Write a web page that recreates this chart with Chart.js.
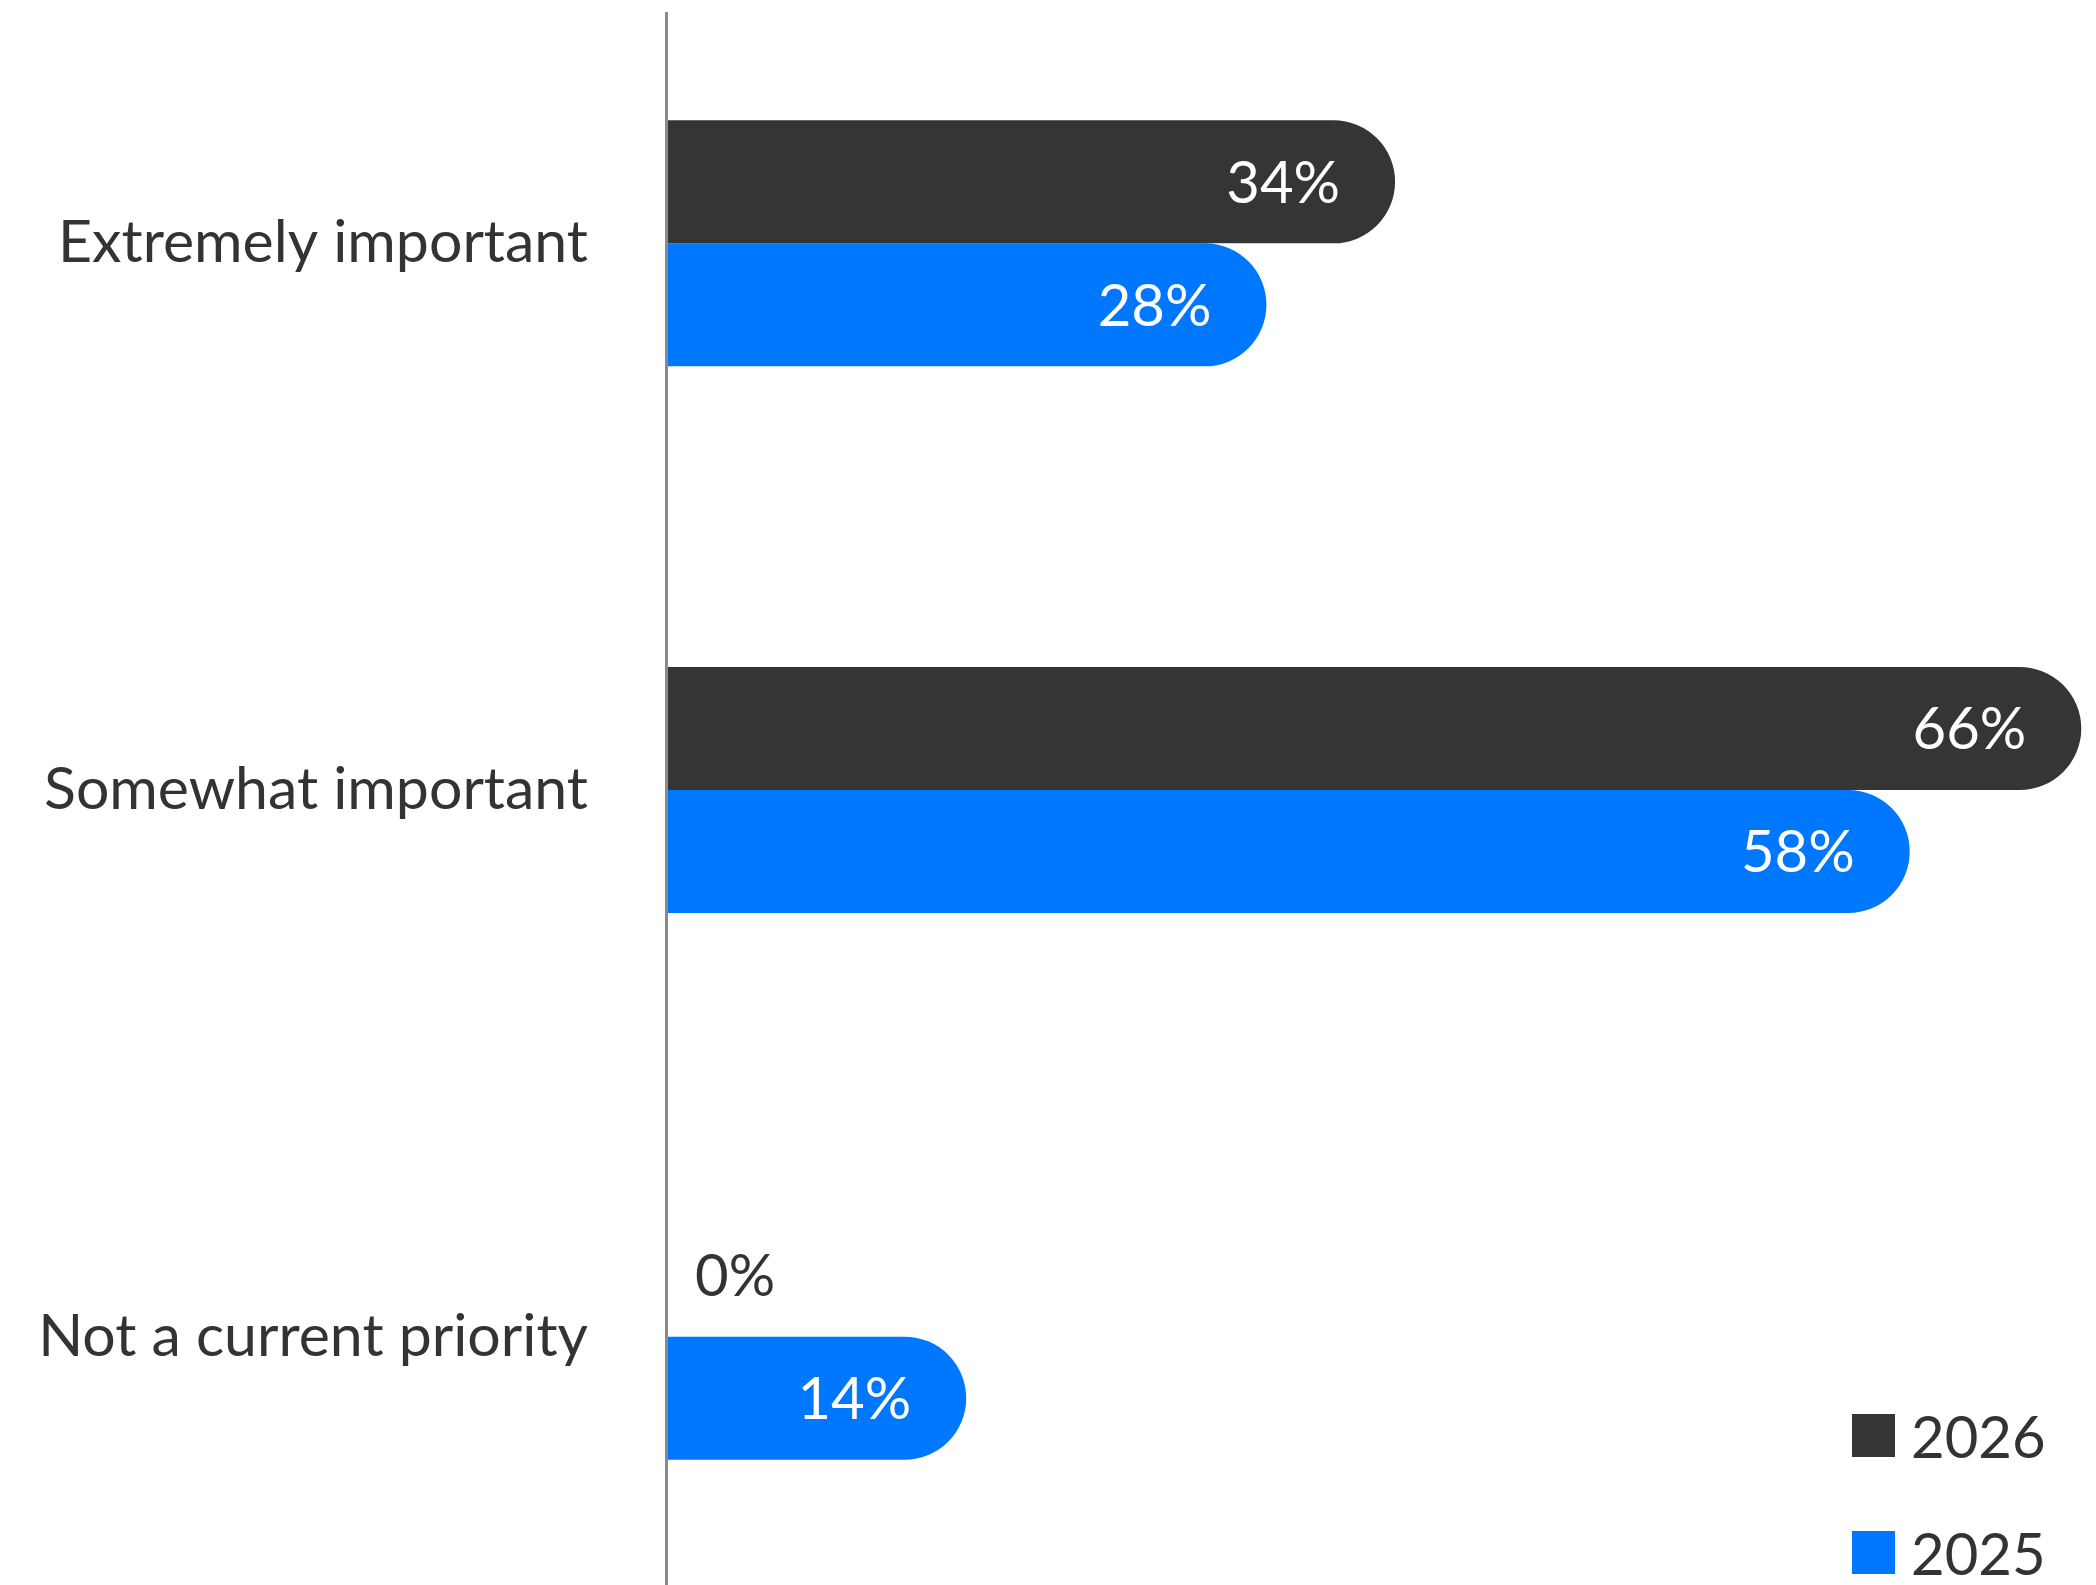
<!DOCTYPE html>
<html>
<head>
<meta charset="utf-8">
<script src="https://cdn.jsdelivr.net/npm/chart.js@4.4.1/dist/chart.umd.min.js"></script>
<style>
  html, body { margin: 0; padding: 0; background: #fff; overflow: hidden; }
  body { width: 2096px; height: 1585px; position: relative; }
  #wrap { position: absolute; left: 0; top: -30px; }
  #legend { position: absolute; left: 1852px; top: 1395px; font-family: Lato, sans-serif; font-size: 58px; color: #333; }
  #legend .item { display: flex; align-items: center; height: 80px; margin-bottom: 37px; }
  #legend .box { width: 43px; height: 43px; margin-right: 16px; }
</style>
</head>
<body>
<div id="wrap"><canvas id="importance-chart" width="2096" height="1640"></canvas></div>
<div id="legend"></div>
<script>
const categories = ['Extremely important', 'Somewhat important', 'Not a current priority'];
const seriesLabels = ['2026', '2025'];
const values2026 = [34, 66, 0];
const values2025 = [28, 58, 14];
const seriesColors = ['#353535', '#0077ff'];

const ctx = document.getElementById('importance-chart').getContext('2d');
let chart;

// percent labels at the end of each bar, outside when the bar is empty
const valueLabels = {
    id: 'valueLabels',
    afterDatasetsDraw(chart) {
        const c = chart.ctx;
        c.save();
        c.font = '58px Lato';
        c.textBaseline = 'middle';
        chart.data.datasets.forEach((ds, i) => {
            chart.getDatasetMeta(i).data.forEach((bar, j) => {
                const v = ds.data[j];
                if (v === 0) {
                    c.textAlign = 'left';
                    c.fillStyle = '#333';
                    c.fillText(v + '%', bar.x + 29, bar.y + 2);
                } else {
                    c.textAlign = 'right';
                    c.fillStyle = '#fff';
                    c.fillText(v + '%', bar.x - 55, bar.y + 2);
                }
            });
        });
        c.restore();
    }
};

// vertical baseline at zero
const zeroLine = {
    id: 'zeroLine',
    afterDatasetsDraw(chart) {
        const c = chart.ctx;
        const x = Math.round(chart.scales.x.getPixelForValue(0)) + 0.5;
        c.save();
        c.strokeStyle = '#8a8a8a';
        c.lineWidth = 3;
        c.beginPath();
        c.moveTo(x, 42);
        c.lineTo(x, chart.height);
        c.stroke();
        c.restore();
    }
};

function buildLegend() {
    const legend = document.getElementById('legend');
    legend.innerHTML = '';
    seriesLabels.forEach((label, i) => {
        const item = document.createElement('div');
        item.className = 'item';
        item.innerHTML = '<span class="box" style="background:' + seriesColors[i] + '"></span><span>' + label + '</span>';
        legend.appendChild(item);
    });
}

function plotChart() {
    if (chart !== undefined) {
        chart.destroy();
    }

    chart = new Chart(ctx, {
        type: 'bar',
        data: {
            labels: categories,
            datasets: [{
                label: seriesLabels[0],
                backgroundColor: seriesColors[0],
                data: values2026
            }, {
                label: seriesLabels[1],
                backgroundColor: seriesColors[1],
                data: values2025
            }]
        },
        options: {
            indexAxis: 'y',
            responsive: false,
            animation: false,
            layout: { padding: { left: 0, right: 4, top: 0, bottom: 0 } },
            datasets: {
                bar: {
                    categoryPercentage: 0.45,
                    barPercentage: 1.0,
                    borderRadius: 100,
                    borderSkipped: 'start'
                }
            },
            scales: {
                x: {
                    display: false,
                    min: 0,
                    max: 66.5
                },
                y: {
                    grid: { display: false, drawTicks: false },
                    border: { display: false },
                    ticks: {
                        color: '#333',
                        padding: 78,
                        font: { family: 'Lato', size: 59 }
                    },
                    afterFit(scale) {
                        scale.width = 666;
                        scale.paddingTop = 0;
                        scale.paddingBottom = 0;
                    }
                }
            },
            plugins: {
                legend: { display: false },
                tooltip: { enabled: false }
            }
        },
        plugins: [valueLabels, zeroLine]
    });
}

document.fonts.load('58px Lato').then(() => {
    buildLegend();
    plotChart();
});
</script>
</body>
</html>
